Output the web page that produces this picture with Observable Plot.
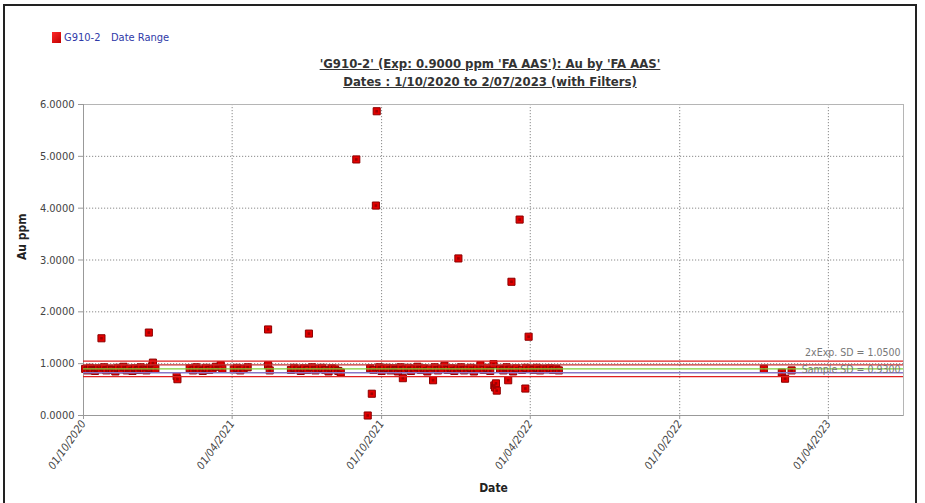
<!DOCTYPE html>
<html>
<head>
<meta charset="utf-8">
<script src="https://cdn.jsdelivr.net/npm/d3@7"></script>
<script src="https://cdn.jsdelivr.net/npm/@observablehq/plot@0.6"></script>
<style>
  html, body { margin: 0; padding: 0; background: #fff; }
  #page { position: relative; width: 925px; height: 503px; overflow: hidden; font-family: "DejaVu Sans Condensed", "DejaVu Sans", sans-serif; }
  #border { position: absolute; left: 3px; top: 4px; width: 914px; height: 520px; border: 2px solid #222; box-sizing: border-box; }
  #chart { position: absolute; left: 0; top: 0; }
  .leg { position: absolute; top: 31px; font-size: 11px; color: #2f3aa8; }
  .swatch { position: absolute; left: 52px; top: 32px; width: 9px; height: 11px; background: linear-gradient(135deg, #ff2a2a, #c00000); }
  #title { position: absolute; left: 0; top: 55px; width: 980px; text-align: center; font-size: 13px; font-weight: bold; line-height: 18px; color: #333; text-decoration: underline; }
</style>
</head>
<body>
<div id="page">
  <div id="chart"></div>
  <div id="border"></div>
  <div class="swatch"></div>
  <div class="leg" style="left:64px">G910-2</div>
  <div class="leg" style="left:111px">Date Range</div>
  <div id="title">'G910-2' (Exp: 0.9000 ppm 'FA AAS'): Au by 'FA AAS'<br>Dates : 1/10/2020 to 2/07/2023 (with Filters)</div>
</div>
<script>
// ---- data ----
const sampleDates = [
  "2020-10-03","2020-10-06","2020-10-09","2020-10-12","2020-10-15","2020-10-19","2020-10-22","2020-10-23","2020-10-26","2020-10-29",
  "2020-11-02","2020-11-05","2020-11-09","2020-11-12","2020-11-16","2020-11-19","2020-11-23","2020-11-26","2020-11-30",
  "2020-12-03","2020-12-07","2020-12-10","2020-12-14","2020-12-17","2020-12-20","2020-12-21","2020-12-24","2020-12-25","2020-12-28",
  "2021-01-23","2021-01-24",
  "2021-02-08","2021-02-12","2021-02-16","2021-02-20","2021-02-24","2021-02-28","2021-03-04","2021-03-08","2021-03-12","2021-03-18","2021-03-20",
  "2021-04-03","2021-04-07","2021-04-11","2021-04-15","2021-04-20","2021-05-15","2021-05-15","2021-05-17",
  "2021-06-12","2021-06-16","2021-06-20","2021-06-24","2021-06-28","2021-07-02","2021-07-04","2021-07-08","2021-07-12","2021-07-16",
  "2021-07-20","2021-07-24","2021-07-28","2021-08-01","2021-08-05","2021-08-09","2021-08-12",
  "2021-08-31","2021-09-14","2021-09-17","2021-09-19","2021-09-21","2021-09-24","2021-09-25","2021-09-28","2021-10-01","2021-10-04","2021-10-08","2021-10-12",
  "2021-10-15","2021-10-18","2021-10-21","2021-10-24","2021-10-27","2021-10-30","2021-11-03","2021-11-06","2021-11-10","2021-11-14","2021-11-18",
  "2021-11-22","2021-11-26","2021-11-29","2021-12-03","2021-12-05","2021-12-09","2021-12-13","2021-12-17","2021-12-21","2021-12-25","2021-12-29",
  "2022-01-02","2022-01-03","2022-01-06","2022-01-10","2022-01-14","2022-01-18","2022-01-22","2022-01-26","2022-01-30",
  "2022-02-03","2022-02-07","2022-02-11","2022-02-15","2022-02-16","2022-02-17","2022-02-18","2022-02-19","2022-02-23","2022-02-27",
  "2022-03-03","2022-03-05","2022-03-07","2022-03-09","2022-03-11","2022-03-15","2022-03-19","2022-03-22","2022-03-26","2022-03-27","2022-03-30",
  "2022-04-01","2022-04-05","2022-04-09","2022-04-13","2022-04-17","2022-04-21","2022-04-25","2022-04-29","2022-05-03","2022-05-06",
  "2023-01-12","2023-02-03","2023-02-07","2023-02-15"
];
const auValues = [
  0.90,0.87,0.92,0.88,0.86,0.91,0.89,1.49,0.93,0.87,
  0.90,0.88,0.85,0.92,0.89,0.94,0.87,0.90,0.86,
  0.91,0.88,0.93,0.89,0.87,1.60,0.92,0.95,1.02,0.90,
  0.76,0.70,
  0.91,0.87,0.93,0.89,0.86,0.92,0.88,0.90,0.94,0.97,0.90,
  0.89,0.92,0.87,0.90,0.93,1.66,0.97,0.87,
  0.88,0.92,0.89,0.86,0.91,0.88,1.58,0.93,0.87,0.90,
  0.92,0.88,0.85,0.91,0.89,0.86,0.83,
  4.94,0.00,0.91,0.42,0.88,4.05,5.87,0.93,0.86,0.90,0.92,0.87,
  0.91,0.88,0.85,0.93,0.72,0.89,0.92,0.86,0.90,0.94,0.88,
  0.91,0.85,0.89,0.68,0.93,0.87,0.90,0.96,0.88,0.91,0.86,
  0.90,3.03,0.93,0.87,0.89,0.92,0.85,0.90,0.97,
  0.88,0.92,0.86,0.99,0.58,0.54,0.62,0.48,0.90,0.87,
  0.93,0.68,0.89,2.58,0.85,0.91,3.78,0.88,0.52,0.92,1.52,
  0.90,0.88,0.92,0.87,0.90,0.89,0.91,0.88,0.90,0.87,
  0.90,0.83,0.71,0.87
];
const yTicks = [0, 1, 2, 3, 4, 5, 6];
const xTickDates = ["2020-10-01","2021-04-01","2021-10-01","2022-04-01","2022-10-01","2023-04-01"];
const xDomain = ["2020-10-01","2023-07-02"];
const limitValues = [1.05, 0.975, 0.90, 0.825, 0.75];
const limitColors = ["#e02020", "#c83030", "#7fd03a", "#8a78c8", "#e02020"];
const limitLabels = ["2xExp. SD = 1.0500", "Sample SD = 0.9300"];
const limitLabelValues = [1.05, 0.90];
const limitLabelShift = [-8, 1];

// ---- build ----
const parse = d3.utcParse("%Y-%m-%d");
const points = sampleDates.map((d, i) => ({date: parse(d), au: auValues[i]}));
const tickDates = xTickDates.map(parse);
const limits = limitValues.map((v, i) => ({v, c: limitColors[i]}));
const fmtDate = d3.utcFormat("%d/%m/%Y");
const font = "DejaVu Sans Condensed, DejaVu Sans, sans-serif";

const chart = Plot.plot({
  width: 925,
  height: 503,
  marginLeft: 83,
  marginRight: 22,
  marginTop: 104,
  marginBottom: 88,
  style: {fontFamily: font, fontSize: "11px", color: "#444", background: "transparent"},
  x: {type: "utc", domain: xDomain.map(parse), label: null},
  y: {domain: [0, 6], label: null},
  marks: [
    Plot.gridY(yTicks, {stroke: "#8a8a8a", strokeOpacity: 1, strokeDasharray: "1.2,1.8"}),
    Plot.gridX(tickDates, {stroke: "#8a8a8a", strokeOpacity: 1, strokeDasharray: "1.2,1.8"}),
    Plot.frame({stroke: "#b5b5b5"}),
    Plot.ruleX([xDomain[0]].map(parse), {stroke: "#999"}),
    Plot.ruleY([0], {stroke: "#999"}),
    Plot.dot(points, {x: "date", y: "au", symbol: "square", r: 4, fill: "#e30000", stroke: "#8c0000", strokeWidth: 1}),
    Plot.dot(points, {x: "date", y: "au", symbol: "square", r: 1.5, fill: "#a00000"}),
    Plot.ruleY(limits, {y: "v", stroke: "c", strokeWidth: 1.3}),
    ...limitLabels.map((t, i) =>
      Plot.text([t], {y: () => limitLabelValues[i], frameAnchor: "right", dx: -3, dy: limitLabelShift[i], textAnchor: "end", fill: "#777", fontSize: 10.5})
    ),
    Plot.axisY(yTicks, {tickFormat: d3.format(".4f"), tickSize: 5, tickPadding: 4, stroke: "#999", fill: "#444", fontSize: 11, label: null}),
    Plot.axisX(tickDates, {tickFormat: fmtDate, tickRotate: -55, tickSize: 4, tickPadding: 2, stroke: "#999", fill: "#444", fontSize: 11, fontStyle: "italic", label: null}),
    Plot.text(["Au ppm"], {frameAnchor: "left", dx: -61, rotate: -90, fontWeight: "bold", fontSize: 12, fill: "#222"}),
    Plot.text(["Date"], {frameAnchor: "bottom", dy: 76, fontWeight: "bold", fontSize: 12, fill: "#222"})
  ]
});
document.getElementById("chart").appendChild(chart);
</script>
</body>
</html>
